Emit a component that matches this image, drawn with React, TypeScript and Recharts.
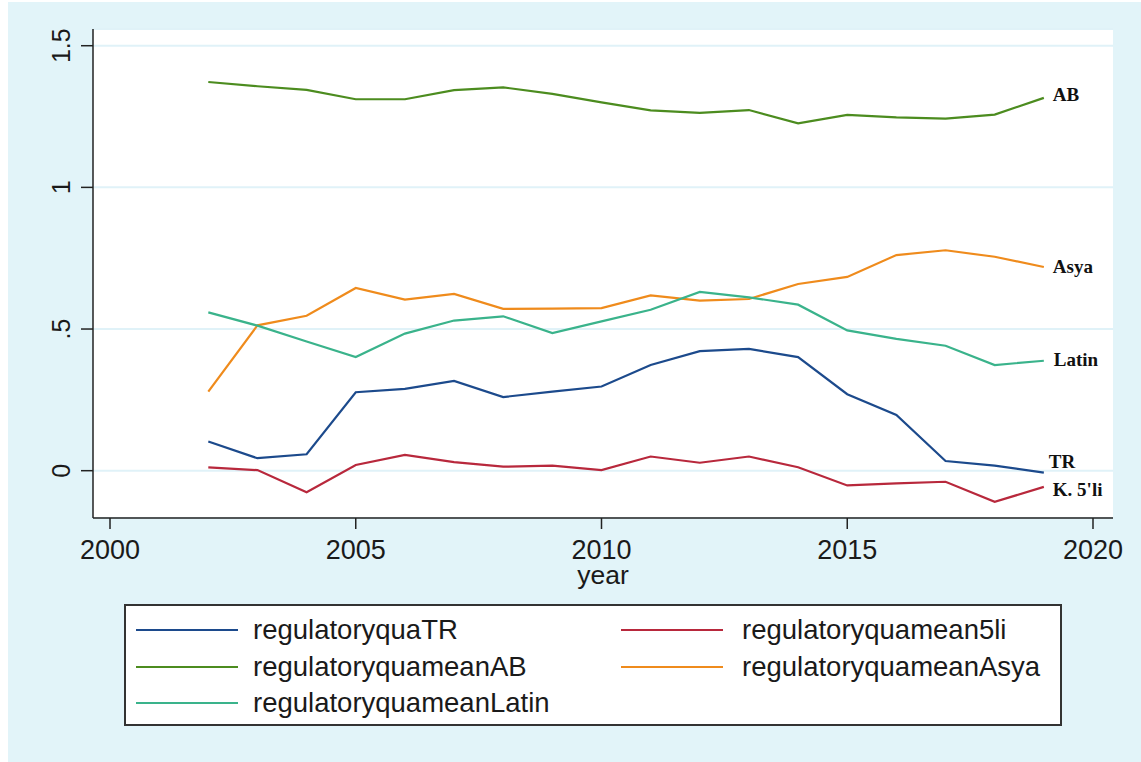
import React from 'react';
import { LineChart, Line, XAxis, YAxis, CartesianGrid, Legend, LabelList, Label } from 'recharts';

const years = [2002, 2003, 2004, 2005, 2006, 2007, 2008, 2009, 2010, 2011, 2012, 2013, 2014, 2015, 2016, 2017, 2018, 2019];
const trValues = [0.103, 0.044, 0.058, 0.277, 0.289, 0.317, 0.26, 0.279, 0.297, 0.373, 0.422, 0.43, 0.401, 0.27, 0.197, 0.034, 0.018, -0.007];
const fiveLiValues = [0.012, 0.002, -0.076, 0.02, 0.056, 0.03, 0.014, 0.018, 0.002, 0.05, 0.028, 0.05, 0.012, -0.052, -0.045, -0.039, -0.11, -0.057];
const abValues = [1.372, 1.357, 1.344, 1.311, 1.311, 1.343, 1.353, 1.33, 1.3, 1.272, 1.263, 1.273, 1.226, 1.256, 1.247, 1.243, 1.257, 1.316];
const asyaValues = [0.279, 0.513, 0.547, 0.645, 0.604, 0.624, 0.571, 0.572, 0.574, 0.619, 0.6, 0.606, 0.659, 0.684, 0.761, 0.778, 0.755, 0.719];
const latinValues = [0.559, 0.512, 0.456, 0.401, 0.484, 0.53, 0.545, 0.486, 0.527, 0.568, 0.631, 0.612, 0.586, 0.495, 0.465, 0.441, 0.373, 0.388];

const xTicks = [2000, 2005, 2010, 2015, 2020];
const yTicks = [0, 0.5, 1, 1.5];
const yTickLabels = ['0', '.5', '1', '1.5'];
const xAxisTitle = 'year';

const seriesKeys = ['tr', 'fiveLi', 'ab', 'asya', 'latin'];
const seriesNames = [
  'regulatoryquaTR',
  'regulatoryquamean5li',
  'regulatoryquameanAB',
  'regulatoryquameanAsya',
  'regulatoryquameanLatin',
];
const endLabels = ['TR', "K. 5'li", 'AB', 'Asya', 'Latin'];

const data = years.map((year, i) => ({
  year,
  tr: trValues[i],
  fiveLi: fiveLiValues[i],
  ab: abValues[i],
  asya: asyaValues[i],
  latin: latinValues[i],
}));

// styles
const colors = ['#1c4a8c', '#b8283c', '#4c8c1f', '#ef8b1c', '#3ab38b'];
const labelOffsets = [
  { dx: 5, dy: -11 },
  { dx: 9, dy: 3 },
  { dx: 9, dy: -3 },
  { dx: 9, dy: 0 },
  { dx: 10, dy: -1 },
];
const axisColor = '#222';
const gridColor = '#e0f2f8';
const bgColor = '#e2f4f9';
const sansFont = '"Liberation Sans", Arial, sans-serif';
const serifFont = '"Liberation Serif", "Times New Roman", serif';

const makeEndLabel = (si: number) => (props: any) => {
  const idx = props.index;
  if (idx !== years.length - 1) return null;
  const x = props.x ?? props.viewBox?.x;
  const y = props.y ?? props.viewBox?.y;
  if (x == null || y == null) return null;
  const o = labelOffsets[si];
  return (
    <text
      x={x + o.dx}
      y={y + o.dy}
      fontFamily={serifFont}
      fontWeight="bold"
      fontSize={19}
      fill="#111"
      dominantBaseline="central"
    >
      {endLabels[si]}
    </text>
  );
};

const YTick = (props: any) => {
  const { x, y, payload } = props;
  const i = yTicks.indexOf(payload.value);
  const cx = x - 18;
  return (
    <text
      x={cx}
      y={y}
      transform={`rotate(-90 ${cx} ${y})`}
      textAnchor="middle"
      dominantBaseline="central"
      fontFamily={sansFont}
      fontSize={25}
      fill="#1a1a1a"
    >
      {i >= 0 ? yTickLabels[i] : payload.value}
    </text>
  );
};

const XTick = (props: any) => {
  const { x, y, payload } = props;
  return (
    <text
      x={x}
      y={y + 19}
      textAnchor="middle"
      dominantBaseline="central"
      fontFamily={sansFont}
      fontSize={27}
      fill="#1a1a1a"
    >
      {payload.value}
    </text>
  );
};

const renderLegend = (props: any) => {
  const payload = [...(props.payload || [])].sort(
    (a: any, b: any) => seriesNames.indexOf(a.value) - seriesNames.indexOf(b.value)
  );
  return (
    <div
      style={{
        width: 938,
        height: 122,
        background: '#fff',
        border: '2px solid #333',
        boxSizing: 'border-box',
        position: 'relative',
      }}
    >
      {payload.map((p: any, i: number) => {
        const col = i % 2;
        const row = Math.floor(i / 2);
        const center = 24 + 36.5 * row;
        const lineLeft = col === 0 ? 10 : 495;
        const textLeft = col === 0 ? 127 : 616;
        return (
          <React.Fragment key={p.value}>
            <div
              style={{
                position: 'absolute',
                left: lineLeft,
                top: center - 1,
                width: 102,
                height: 2,
                background: p.color,
              }}
            />
            <div
              style={{
                position: 'absolute',
                left: textLeft,
                top: center - 15,
                height: 30,
                lineHeight: '30px',
                fontFamily: sansFont,
                fontSize: 27.5,
                color: '#1a1a1a',
                whiteSpace: 'nowrap',
              }}
            >
              {p.value}
            </div>
          </React.Fragment>
        );
      })}
    </div>
  );
};

export default function App() {
  return (
    <div
      style={{
        position: 'absolute',
        left: 8,
        top: 2,
        width: 1133,
        height: 760,
        background: bgColor,
      }}
    >
      <LineChart
        width={1133}
        height={760}
        data={data}
        margin={{ top: 27, right: 28, left: 0, bottom: 174 }}
      >
        <CartesianGrid
          horizontal={true}
          vertical={false}
          fill="#ffffff"
          fillOpacity={1}
          stroke={gridColor}
          strokeWidth={2}
        />
        <XAxis
          dataKey="year"
          type="number"
          domain={[1999.654, 2020.407]}
          ticks={xTicks}
          interval={0}
          allowDataOverflow
          height={70}
          tickSize={11}
          tick={<XTick />}
          axisLine={{ stroke: axisColor, strokeWidth: 1.5 }}
          tickLine={{ stroke: axisColor, strokeWidth: 1.5 }}
        >
          <Label
            content={(props: any) => {
              const vb = props.viewBox || {};
              return (
                <text
                  x={(vb.x ?? 85) + (vb.width ?? 1020) / 2}
                  y={(vb.y ?? 516) + 57}
                  textAnchor="middle"
                  dominantBaseline="central"
                  fontFamily={sansFont}
                  fontSize={26.5}
                  fill="#1a1a1a"
                >
                  {xAxisTitle}
                </text>
              );
            }}
          />
        </XAxis>
        <YAxis
          type="number"
          domain={[-0.167, 1.559]}
          ticks={yTicks}
          interval={0}
          allowDataOverflow
          width={85}
          tickSize={12}
          tick={<YTick />}
          axisLine={{ stroke: axisColor, strokeWidth: 1.5 }}
          tickLine={{ stroke: axisColor, strokeWidth: 1.5 }}
        />
        <Legend
          content={renderLegend}
          layout="horizontal"
          verticalAlign="middle"
          align="center"
          wrapperStyle={{ left: 116, top: 602, width: 938, height: 122 }}
        />
        {seriesKeys.map((k, si) => (
          <Line
            key={k}
            type="linear"
            dataKey={k}
            name={seriesNames[si]}
            stroke={colors[si]}
            strokeWidth={2.2}
            dot={false}
            activeDot={false}
            isAnimationActive={false}
          >
            <LabelList dataKey={k} content={makeEndLabel(si)} />
          </Line>
        ))}
      </LineChart>
    </div>
  );
}
